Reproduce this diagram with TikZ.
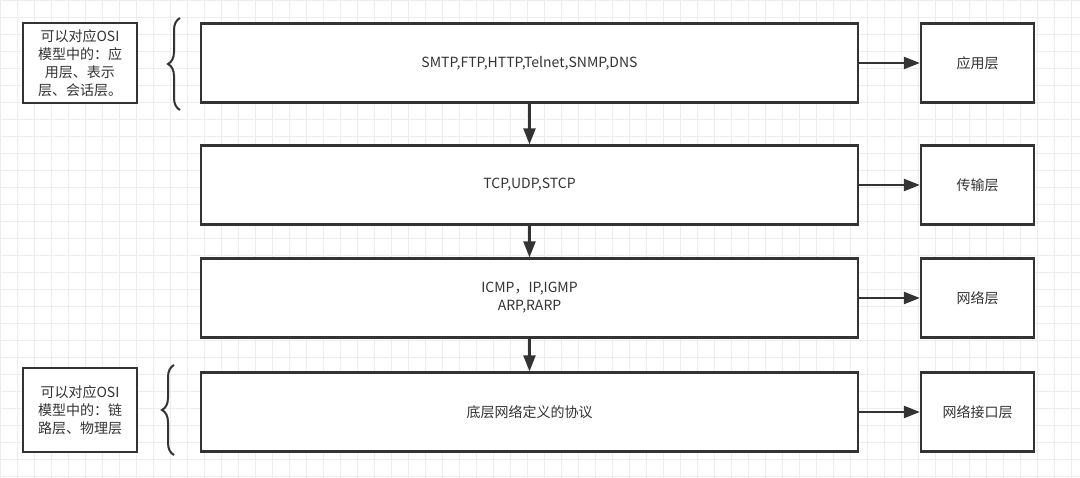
\documentclass[tikz,border=0pt]{standalone}
\usepackage{fontspec}
\setmainfont{Noto Sans CJK SC}
\usetikzlibrary{arrows.meta,decorations.pathreplacing}
\definecolor{line}{HTML}{333333}
\tikzset{
  layer/.style={draw=line, line width=2.2pt, fill=white, text=line, align=center, font=\fontsize{14}{18}\selectfont},
  note/.style={layer, text width=104pt, inner sep=2pt},
  flow/.style={draw=line, line width=2.2pt, -{Triangle[length=16pt,width=12pt]}},
  brc/.style={draw=line, line width=2pt, decorate, decoration={brace, amplitude=12pt}}
}
\begin{document}
\begin{tikzpicture}[x=1pt,y=-1pt]
\useasboundingbox (0,0) rectangle (1080,478);
\fill[white] (0,0) rectangle (1080,478);
\draw[black!7, line width=0.8pt] (0,0) grid[step=17pt] (1080,478);

    % main protocol boxes
    \node[layer, minimum width=657pt, minimum height=79pt] (p1) at (529.5,63) {SMTP,FTP,HTTP,Telnet,SNMP,DNS};
    \node[layer, minimum width=657pt, minimum height=79pt] (p2) at (529.5,185) {TCP,UDP,STCP};
    \node[layer, minimum width=657pt, minimum height=79pt] (p3) at (529.5,298) {ICMP，IP,IGMP\\ARP,RARP};
    \node[layer, minimum width=657pt, minimum height=79pt] (p4) at (529.5,412) {底层网络定义的协议};
    % layer names
    \foreach \n/\lab in {1/应用层, 2/传输层, 3/网络层, 4/网络接口层}
        \node[layer, minimum width=113pt, minimum height=79pt] (l\n) at (977.5,0 |- p\n) {\lab};
    % OSI notes
    \node[note, minimum width=114pt, minimum height=80pt] (n1) at (80,63) {可以对应OSI\\模型中的：应\\用层、表示\\层、会话层。};
    \node[note, minimum width=114pt, minimum height=84pt] (n2) at (80,410) {可以对应OSI\\模型中的：链\\路层、物理层};
    \coordinate (b1s) at (180,110);
    \coordinate (b1e) at (180,18);
    \coordinate (b2s) at (174,455);
    \coordinate (b2e) at (174,365);

    \foreach \from/\to in {p1/p2, p2/p3, p3/p4}
        \draw[flow] (\from) -- (\to.north);
    \foreach \n in {1,...,4}
        \draw[flow] (p\n) -- (l\n);
    \draw[brc] (b1s) -- (b1e);
    \draw[brc] (b2s) -- (b2e);
\end{tikzpicture}
\end{document}
